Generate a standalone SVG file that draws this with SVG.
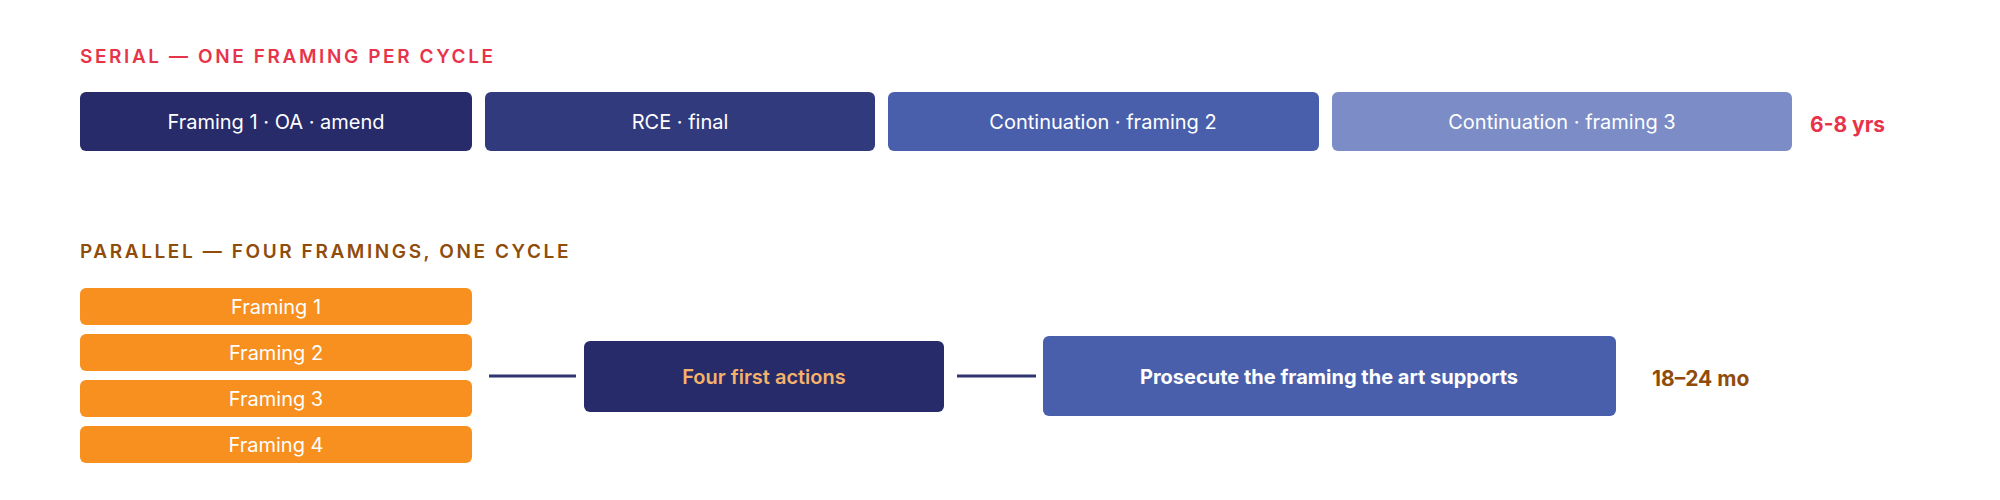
<svg xmlns="http://www.w3.org/2000/svg" width="2000" height="500" viewBox="0 0 2000 500">
<style>
text{font-family:Inter,"Liberation Sans",sans-serif}
.h{font-size:19px;font-weight:600;letter-spacing:2.6px}
.b{font-size:20px;fill:#fff;text-anchor:middle;dominant-baseline:central}
.o{fill:#f7901f}
.c{stroke:#2f356f;stroke-width:3}
</style>
<rect width="2000" height="500" fill="#fff"/>
<text class="h" x="80" y="63" fill="#e8344a">SERIAL — ONE FRAMING PER CYCLE</text>
<g id="s1"><rect x="80" y="92" width="392" height="59" rx="6" fill="#272b6a"/><text class="b" x="276" y="122">Framing 1 · OA · amend</text></g>
<g id="s2"><rect x="485" y="92" width="390" height="59" rx="6" fill="#323a7e"/><text class="b" x="680" y="122">RCE · final</text></g>
<g id="s3"><rect x="888" y="92" width="431" height="59" rx="6" fill="#4a5fab"/><text class="b" x="1103" y="122">Continuation · framing 2</text></g>
<g id="s4"><rect x="1332" y="92" width="460" height="59" rx="6" fill="#7b8cc6"/><text class="b" x="1562" y="122">Continuation · framing 3</text></g>
<text x="1810" y="124" font-size="21" font-weight="700" fill="#e8344a" dominant-baseline="central">6-8 yrs</text>
<text class="h" x="80" y="258" fill="#8f4c0a">PARALLEL — FOUR FRAMINGS, ONE CYCLE</text>
<g id="p1"><rect class="o" x="80" y="288" width="392" height="37" rx="6"/><text class="b" x="276" y="307">Framing 1</text></g>
<g id="p2"><rect class="o" x="80" y="334" width="392" height="37" rx="6"/><text class="b" x="276" y="353">Framing 2</text></g>
<g id="p3"><rect class="o" x="80" y="380" width="392" height="37" rx="6"/><text class="b" x="276" y="399">Framing 3</text></g>
<g id="p4"><rect class="o" x="80" y="426" width="392" height="37" rx="6"/><text class="b" x="276" y="445">Framing 4</text></g>
<g id="connectors"><line class="c" x1="489" y1="376" x2="576" y2="376"/><line class="c" x1="957" y1="376" x2="1036" y2="376"/></g>
<g id="fa"><rect x="584" y="341" width="360" height="71" rx="6" fill="#272b6a"/><text class="b" x="764" y="377" fill="#f6b26b" style="fill:#f6b26b;font-weight:600">Four first actions</text></g>
<g id="pr"><rect x="1043" y="336" width="573" height="80" rx="6" fill="#4a5fab"/><text class="b" x="1329" y="377" style="font-weight:700">Prosecute the framing the art supports</text></g>
<text x="1652" y="378" font-size="21" font-weight="700" fill="#8f4c0a" dominant-baseline="central">18–24 mo</text>
</svg>
